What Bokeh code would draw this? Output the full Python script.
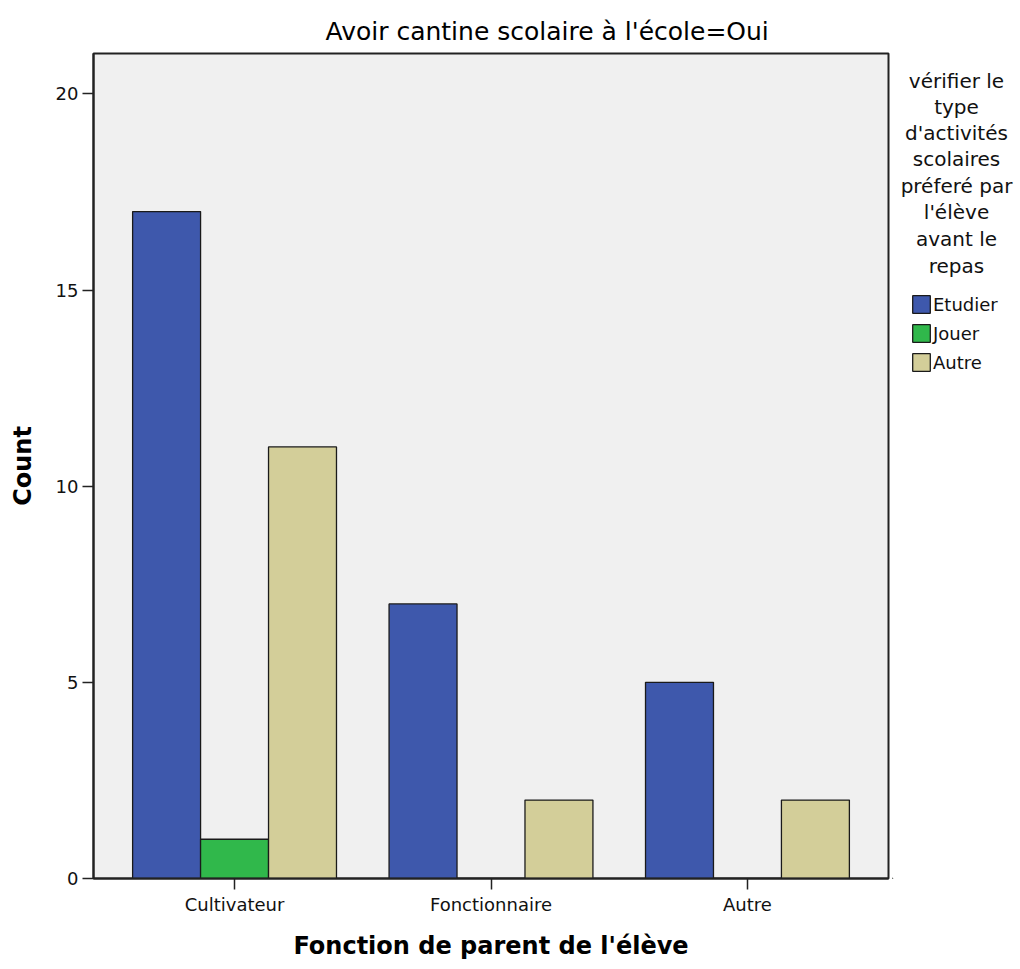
from bokeh.plotting import figure
from bokeh.models import (ColumnDataSource, FactorRange, Range1d, Label, Legend,
                          LegendItem, FixedTicker)
from bokeh.layouts import row
from bokeh.transform import dodge
from bokeh.embed import file_html
from bokeh.resources import INLINE

# ---- data ----
categories = ["Cultivateur", "Fonctionnaire", "Autre"]
etudier = [17, 7, 5]
jouer = [1, 0, 0]
autre = [11, 2, 2]
series_names = ["Etudier", "Jouer", "Autre"]
y_ticks = [0, 5, 10, 15, 20]

title_text = "Avoir cantine scolaire à l'école=Oui"
x_label = "Fonction de parent de l'élève"
y_label = "Count"
legend_title_lines = ["vérifier le", "type", "d'activités", "scolaires",
                      "préferé par", "l'élève", "avant le", "repas"]

colors = ["#3E58AC", "#30B84B", "#D3CE99"]

src = ColumnDataSource(dict(cat=categories, Etudier=etudier, Jouer=jouer, Autre=autre))

FONT = "DejaVu Sans"
MAIN_W = 892
TOTAL_W = 1020
H = 969
TOP = 53
FH = 825
BOT = H - TOP - FH          # 91
FRAME_BOTTOM = TOP + FH     # 878

p = figure(x_range=FactorRange(factors=categories, range_padding=0.05,
                               range_padding_units="absolute"),
           y_range=Range1d(0, 21.03),
           frame_width=795, frame_height=FH,
           min_border_left=93, min_border_right=MAIN_W - 93 - 795,
           min_border_top=TOP, min_border_bottom=BOT,
           output_backend="svg", toolbar_location=None,
           background_fill_color="#F0F0F0", border_fill_color="white",
           title=title_text)

p.title.align = "left"
p.title.offset = 232
p.title.text_font = FONT
p.title.text_font_size = "25px"
p.title.text_font_style = "normal"
p.title.text_color = "#000000"
p.title.standoff = 15

bw = 0.265
offsets = [-bw, 0.0, bw]
renderers = []
for name, off, col in zip(series_names, offsets, colors):
    r = p.vbar(x=dodge("cat", off, range=p.x_range), top=name, width=bw,
               source=src, fill_color=col, line_color="#1A1A1A", line_width=1.3)
    renderers.append(r)

p.xgrid.visible = False
p.ygrid.visible = False
p.outline_line_color = "#222222"
p.outline_line_width = 2

for ax in (p.xaxis[0], p.yaxis[0]):
    ax.axis_line_color = "#222222"
    ax.axis_line_width = 2
    ax.major_tick_line_color = "#222222"
    ax.major_tick_line_width = 1.5
    ax.major_tick_out = 11
    ax.major_tick_in = 0
    ax.minor_tick_out = 0
    ax.minor_tick_in = 0
    ax.major_label_text_font = FONT
    ax.major_label_text_font_size = "18px"
    ax.major_label_text_color = "#111111"
    ax.major_label_standoff = 4
    ax.axis_label_text_font = FONT
    ax.axis_label_text_font_style = "bold"
    ax.axis_label_text_color = "#000000"

p.yaxis[0].ticker = FixedTicker(ticks=y_ticks)
p.yaxis[0].axis_label = y_label
p.yaxis[0].axis_label_text_font_size = "24px"
p.yaxis[0].axis_label_standoff = 16
p.xaxis[0].axis_label = x_label
p.xaxis[0].axis_label_text_font_size = "24px"
p.xaxis[0].axis_label_standoff = 14

# ---- legend panel (separate figure on the right, frame aligned with main) ----
LW = TOTAL_W - MAIN_W
lf = figure(width=LW, frame_height=FH, x_range=Range1d(0, 1), y_range=Range1d(0, 1),
            min_border_left=0, min_border_right=0,
            min_border_top=TOP, min_border_bottom=BOT,
            x_axis_location=None, y_axis_location=None,
            output_backend="svg", toolbar_location=None,
            outline_line_color=None, background_fill_color="white",
            border_fill_color="white")
lf.xgrid.visible = False
lf.ygrid.visible = False

line_y = [80, 106, 132, 158, 185, 211, 238, 265]
for txt, yy in zip(legend_title_lines, line_y):
    lf.add_layout(Label(x=956 - MAIN_W, y=FRAME_BOTTOM - yy,
                        x_units="screen", y_units="screen",
                        text=txt, text_font=FONT, text_font_size="20px",
                        text_color="#111111", text_baseline="middle",
                        text_align="center"))

# legend swatch renderers (one bar each, placed outside the visible range)
swatch_renderers = []
for col in colors:
    sr = lf.vbar(x=[-10], top=[-10], bottom=[-11], width=0.1, fill_color=col,
                 line_color="#1A1A1A", line_width=1.3)
    swatch_renderers.append(sr)

legend = Legend(items=[LegendItem(label=n, renderers=[r])
                       for n, r in zip(series_names, swatch_renderers)],
                location=(910 - MAIN_W, FRAME_BOTTOM - 373), padding=0, margin=0,
                spacing=7, glyph_width=22, glyph_height=22, label_standoff=1,
                label_height=20, label_text_font=FONT, label_text_font_size="18px",
                label_text_color="#111111",
                border_line_alpha=0, background_fill_alpha=0)
lf.add_layout(legend)

layout = row(p, lf, spacing=0)
open("out.html", "w").write(file_html(layout, INLINE))
